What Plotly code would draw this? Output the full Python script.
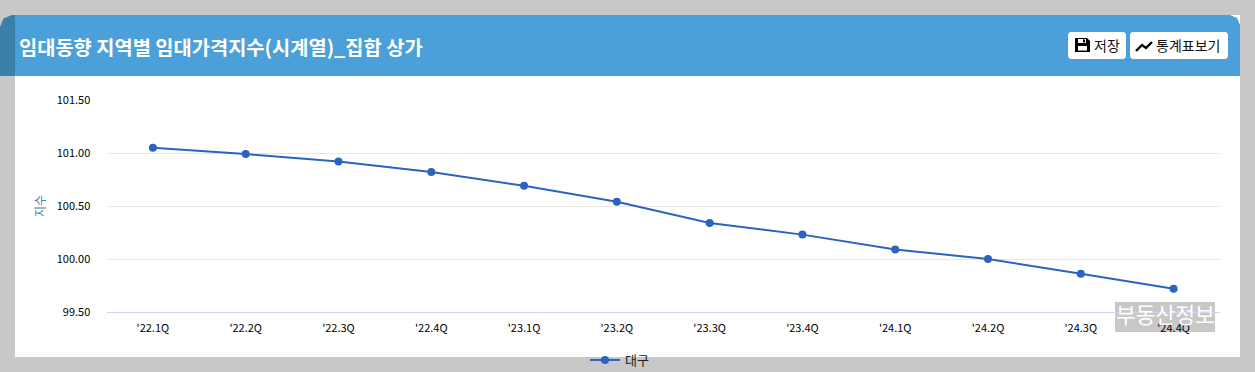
import plotly.graph_objects as go

W, H = 1255, 372
title = "임대동향 지역별 임대가격지수(시계열)_집합 상가"
series_name = "대구"
y_title = "지수"
quarters = ["'22.1Q", "'22.2Q", "'22.3Q", "'22.4Q", "'23.1Q", "'23.2Q",
            "'23.3Q", "'23.4Q", "'24.1Q", "'24.2Q", "'24.3Q", "'24.4Q"]
values = [101.05, 100.99, 100.92, 100.82, 100.69, 100.54,
          100.34, 100.23, 100.09, 100.00, 99.86, 99.72]
y_ticks = [99.5, 100.0, 100.5, 101.0, 101.5]

FONT = "'Noto Sans CJK KR', 'Noto Sans', sans-serif"
px = lambda x: x / W
py = lambda y: 1 - y / H


def rect(x0, y0, x1, y1, color, layer="below"):
    return dict(type="rect", xref="paper", yref="paper", x0=px(x0), x1=px(x1),
                y0=py(y0), y1=py(y1), fillcolor=color, line_width=0, layer=layer)


def path(points, color, closed=True, width=0, layer="above"):
    d = ""
    for i, (x, y) in enumerate(points):
        d += ("M" if i == 0 else "L") + f"{px(x):.5f},{py(y):.5f} "
    if closed:
        d += "Z"
    return dict(type="path", xref="paper", yref="paper", path=d,
                fillcolor=color if closed else None,
                line=dict(color=color, width=width), layer=layer)


def rrect(x0, y0, x1, y1, r, color, tl=True, tr=True, br=True, bl=True, layer="below"):
    k = r * 0.29
    pts = []
    pts += [(x0, y0 + r), (x0 + k, y0 + k), (x0 + r, y0)] if tl else [(x0, y0)]
    pts += [(x1 - r, y0), (x1 - k, y0 + k), (x1, y0 + r)] if tr else [(x1, y0)]
    pts += [(x1, y1 - r), (x1 - k, y1 - k), (x1 - r, y1)] if br else [(x1, y1)]
    pts += [(x0 + r, y1), (x0 + k, y1 - k), (x0, y1 - r)] if bl else [(x0, y1)]
    return path(pts, color, layer=layer)


shapes = [
    rect(15, 15, 1240, 357, "#ffffff"),
    rrect(0, 15, 30, 76, 12, "#3b80a9", br=False, bl=False, tr=False),
    rrect(15, 15, 1240, 76, 10, "#4ca0d9", tl=False, br=False, bl=False),
    rrect(1068, 32, 1126, 59, 3, "#ffffff", layer="above"),
    rrect(1130, 32, 1228, 59, 3, "#ffffff", layer="above"),
    # save icon
    path([(1075, 38), (1087, 38), (1090, 41), (1090, 52), (1075, 52)], "#000000"),
    rect(1078, 39, 1086, 43, "#ffffff", layer="above"),
    rect(1083, 39.5, 1085, 42.5, "#000000", layer="above"),
    rect(1078, 46, 1087, 50.5, "#ffffff", layer="above"),
    # trend icon
    path([(1136, 51), (1142, 45), (1146, 48), (1152, 42)], "#000000", closed=False, width=2.4),
    # watermark
    rect(1115, 302, 1215, 332, "#c8c8c8"),
]


def note(text, x, y, size, color, xanchor="left", **kw):
    return dict(text=text, xref="paper", yref="paper", x=px(x), y=py(y), showarrow=False,
                xanchor=xanchor, yanchor="middle", borderpad=0, borderwidth=0,
                font=dict(size=size, color=color, family=FONT), **kw)


annotations = [
    note(f"<b>{title}</b>", 19, 46, 19.8, "#ffffff"),
    note("저장", 1093.5, 45, 14, "#111111"),
    note("통계표보기", 1155.5, 45, 14, "#111111"),
    note("부동산정보", 1165, 313, 21.5, "#ffffff", xanchor="center"),
]

fig = go.Figure(go.Scatter(
    x=quarters, y=values, name=series_name, mode="lines+markers",
    line=dict(color="#2b63c1", width=2), marker=dict(color="#2b63c1", size=8),
))
fig.update_layout(
    width=W, height=H, margin=dict(l=0, r=0, t=0, b=0, autoexpand=False),
    paper_bgcolor="#c8c8c8", plot_bgcolor="rgba(0,0,0,0)",
    font=dict(family=FONT, size=11, color="#111111"),
    shapes=shapes, annotations=annotations,
    hovermode=False,
    showlegend=True,
    legend=dict(orientation="h", x=px(585), xanchor="left", y=py(360), yanchor="middle",
                bgcolor="rgba(0,0,0,0)", font=dict(size=13, color="#222222"),
                itemwidth=30),
    xaxis=dict(domain=[px(106.5), px(1220)], type="category", range=[-0.5, 11.5], fixedrange=True,
               showgrid=False, showline=True, linecolor="#ccd6eb", linewidth=1,
               ticks="outside", ticklen=6, tickcolor="rgba(0,0,0,0)", zeroline=False,
               tickfont=dict(size=11, color="#000000")),
    yaxis=dict(domain=[py(312), py(100)], range=[99.5, 101.5], tickvals=y_ticks, tickformat=".2f",
               fixedrange=True, showgrid=True, gridcolor="#e6e6e6", gridwidth=1, zeroline=False,
               showline=False, ticks="outside", ticklen=13, tickcolor="rgba(0,0,0,0)",
               tickfont=dict(size=11, color="#000000"),
               title=dict(text=y_title, standoff=8, font=dict(size=12, color="#4f7ea8"))),
)
fig.write_html("out.html", config=dict(displayModeBar=False),
               post_script="document.body.style.margin='0';document.body.style.overflow='hidden';")
